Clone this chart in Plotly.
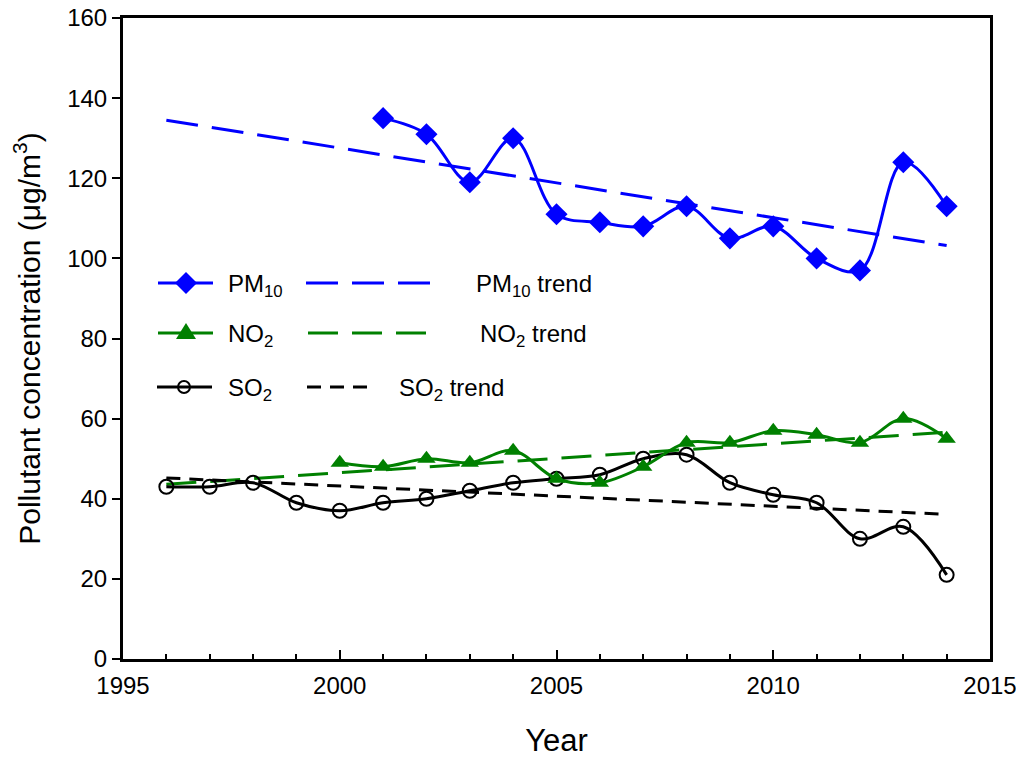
import plotly.graph_objects as go

# ---------------- data ----------------
pm10_years = [2001, 2002, 2003, 2004, 2005, 2006, 2007, 2008, 2009, 2010, 2011, 2012, 2013, 2014]
pm10_values = [135, 131, 119, 130, 111, 109, 108, 113, 105, 108, 100, 97, 124, 113]

no2_years = [2000, 2001, 2002, 2003, 2004, 2005, 2006, 2007, 2008, 2009, 2010, 2011, 2012, 2013, 2014]
no2_values = [49, 48, 50, 49, 52, 45, 44, 48, 54, 54, 57, 56, 54, 60, 55]

so2_years = [1996, 1997, 1998, 1999, 2000, 2001, 2002, 2003, 2004, 2005, 2006, 2007,
             2008, 2009, 2010, 2011, 2012, 2013, 2014]
so2_values = [43, 43, 44, 39, 37, 39, 40, 42, 44, 45, 46, 50, 51, 44, 41, 39, 30, 33, 21]

trend_years = [1996, 2014]
pm10_trend = [134.5, 103.2]
no2_trend = [43.6, 56.6]
so2_trend = [45.2, 36.1]

x_ticks = [1995, 2000, 2005, 2010, 2015]
y_ticks = [0, 20, 40, 60, 80, 100, 120, 140, 160]

BLUE = "#0000FF"
GREEN = "#008000"
BLACK = "#000000"
FONT = "Liberation Sans, Arial, sans-serif"

# target plot area on the page (pixels); page body has an 8px offset
W, H = 1024, 757
OFF = 8
PX0, PX1, PY0, PY1 = 123, 990, 18, 659
PW, PH = PX1 - PX0, PY1 - PY0
ML, MT = PX0 - OFF, PY0 - OFF
MR, MB = W - (PX1 - OFF), H - (PY1 - OFF)


def px(x):
    return (x - PX0) / PW


def py(y):
    return (PY1 - y) / PH


fig = go.Figure()

# trend lines
fig.add_trace(go.Scatter(x=trend_years, y=pm10_trend, mode="lines",
                         line=dict(color=BLUE, width=3, dash="32px,14px"),
                         showlegend=False, hoverinfo="skip"))
fig.add_trace(go.Scatter(x=trend_years, y=no2_trend, mode="lines",
                         line=dict(color=GREEN, width=3, dash="30px,14px"),
                         showlegend=False, hoverinfo="skip"))
fig.add_trace(go.Scatter(x=trend_years, y=so2_trend, mode="lines",
                         line=dict(color=BLACK, width=3, dash="14px,9px"),
                         showlegend=False, hoverinfo="skip"))

# series
fig.add_trace(go.Scatter(x=so2_years, y=so2_values, mode="lines+markers", name="SO2",
                         line=dict(color=BLACK, width=3, shape="spline", smoothing=1),
                         marker=dict(symbol="circle-open", size=14, color=BLACK,
                                     line=dict(color=BLACK, width=2)),
                         showlegend=False))
fig.add_trace(go.Scatter(x=no2_years, y=no2_values, mode="lines+markers", name="NO2",
                         line=dict(color=GREEN, width=3, shape="spline", smoothing=1),
                         marker=dict(symbol="triangle-up", size=16, color=GREEN),
                         showlegend=False))
fig.add_trace(go.Scatter(x=pm10_years, y=pm10_values, mode="lines+markers", name="PM10",
                         line=dict(color=BLUE, width=3, shape="spline", smoothing=1),
                         marker=dict(symbol="diamond", size=17, color=BLUE),
                         showlegend=False))

# ---------------- custom legend ----------------
shapes = []
annotations = []


def hline(x0, x1, y, color, dash, width=3):
    shapes.append(dict(type="line", xref="paper", yref="paper",
                       x0=px(x0), x1=px(x1), y0=py(y), y1=py(y),
                       line=dict(color=color, width=width, dash=dash)))


def glyph(path, cx, cy, fill, line_color, lw=0):
    shapes.append(dict(type="path", xref="paper", yref="paper",
                       xsizemode="pixel", ysizemode="pixel",
                       xanchor=px(cx), yanchor=py(cy), path=path,
                       fillcolor=fill, line=dict(color=line_color, width=lw)))


def ring(cx, cy, r, color, lw):
    shapes.append(dict(type="circle", xref="paper", yref="paper",
                       xsizemode="pixel", ysizemode="pixel",
                       xanchor=px(cx), yanchor=py(cy),
                       x0=-r, x1=r, y0=-r, y1=r,
                       fillcolor="rgba(0,0,0,0)", line=dict(color=color, width=lw)))


def label(text, x, y):
    annotations.append(dict(text=text, xref="paper", yref="paper",
                            x=px(x), y=py(y), xanchor="left", yanchor="middle",
                            showarrow=False, font=dict(family=FONT, size=24, color="black")))


# row 1: PM10
hline(158, 213, 283, BLUE, "solid")
glyph("M 0 11 L 11 0 L 0 -11 L -11 0 Z", 186, 283, BLUE, BLUE)
label("PM<sub>10</sub>", 226, 285)
hline(306, 431, 283, BLUE, "32px,14px")
label("PM<sub>10</sub> trend", 474, 285)

# row 2: NO2
hline(158, 213, 333, GREEN, "solid")
glyph("M -10 -6 L 10 -6 L 0 10 Z", 186, 333, GREEN, GREEN)
label("NO<sub>2</sub>", 226, 335)
hline(308, 431, 333, GREEN, "30px,14px")
label("NO<sub>2</sub> trend", 478, 335)

# row 3: SO2
hline(157, 212, 387, BLACK, "solid")
ring(184, 387, 6, BLACK, 2)
label("SO<sub>2</sub>", 226, 389)
hline(307, 372, 387, BLACK, "14px,9px")
label("SO<sub>2</sub> trend", 397, 389)

fig.update_layout(
    width=W, height=H,
    margin=dict(l=ML, r=MR, t=MT, b=MB, autoexpand=False),
    paper_bgcolor="white", plot_bgcolor="white",
    font=dict(family=FONT, color="black"),
    shapes=shapes, annotations=annotations,
    showlegend=False,
)

fig.update_xaxes(
    range=[1995, 2015], tickvals=x_ticks, ticktext=[str(v) for v in x_ticks],
    ticks="inside", ticklen=9, tickwidth=2, tickcolor="black",
    minor=dict(dtick=1, tick0=1995, ticks="inside", ticklen=5, tickwidth=2, tickcolor="black"),
    showline=True, linecolor="black", linewidth=3, mirror=True,
    showgrid=False, zeroline=False, automargin=False,
    ticklabelstandoff=3, ticklabeloverflow="allow",
    tickfont=dict(family=FONT, size=24, color="black"),
    title=dict(text="Year", font=dict(family=FONT, size=31, color="black"), standoff=32),
)
fig.update_yaxes(
    range=[0, 160], tickvals=y_ticks,
    ticks="outside", ticklen=8, tickwidth=2, tickcolor="black",
    showline=True, linecolor="black", linewidth=3, mirror=True,
    showgrid=False, zeroline=False, automargin=False,
    ticklabeloverflow="allow",
    tickfont=dict(family=FONT, size=24, color="black"),
    title=dict(text="Pollutant concentration (μg/m<sup>3</sup>)",
               font=dict(family=FONT, size=30, color="black"), standoff=23),
)

fig.write_html("out.html")
